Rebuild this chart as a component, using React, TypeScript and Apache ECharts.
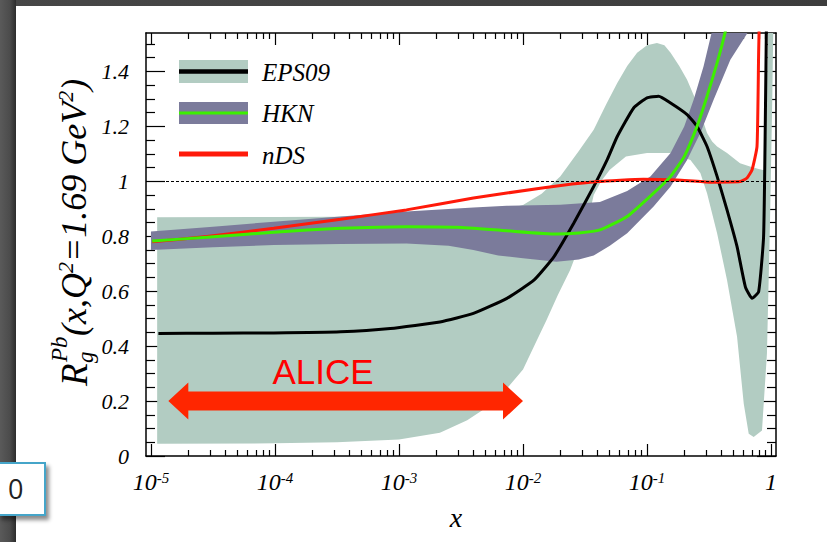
import React, { useEffect, useRef } from 'react';
import * as echarts from 'echarts';

// x positions are given as log10(x); the x axis is logarithmic (10^-5 ... 1)
const xAxisMin = -5.04;
const xAxisMax = 0.04;
const yAxisMin = 0;
const yAxisMax = 1.54;

const xTickExponents = [-5, -4, -3, -2, -1, 0];
const yTickValues = [0, 0.2, 0.4, 0.6, 0.8, 1, 1.2, 1.4];
const yTickLabels = ['0', '0.2', '0.4', '0.6', '0.8', '1', '1.2', '1.4'];
const referenceLevel = 1;

// EPS09 central value [log10 x, R]
const eps09Central: number[][] = [
  [-4.94, 0.446], [-4.5, 0.447], [-4.01, 0.448], [-3.47, 0.452], [-3.07, 0.464],
  [-2.67, 0.488], [-2.4, 0.519], [-2.13, 0.574], [-1.91, 0.641], [-1.75, 0.726],
  [-1.59, 0.848], [-1.43, 0.981], [-1.32, 1.08], [-1.24, 1.163], [-1.108, 1.267],
  [-1.0, 1.304], [-0.906, 1.31], [-0.81, 1.285], [-0.677, 1.243], [-0.597, 1.2],
  [-0.516, 1.127], [-0.435, 1.018], [-0.355, 0.896], [-0.274, 0.762], [-0.207, 0.616],
  [-0.153, 0.574], [-0.1, 0.598], [-0.06, 0.8], [-0.046, 1.224], [-0.036, 1.62],
];
// EPS09 uncertainty band
const eps09Upper: number[][] = [
  [-4.95, 0.869], [-4.0, 0.87], [-3.0, 0.872], [-2.5, 0.878], [-2.2, 0.89],
  [-2.0, 0.914], [-1.85, 0.955], [-1.7, 1.018], [-1.55, 1.11], [-1.43, 1.188],
  [-1.33, 1.28], [-1.24, 1.358], [-1.16, 1.42], [-1.08, 1.468], [-1.0, 1.495],
  [-0.92, 1.504], [-0.86, 1.495], [-0.81, 1.468], [-0.74, 1.42], [-0.677, 1.37],
  [-0.62, 1.31], [-0.57, 1.249], [-0.516, 1.176], [-0.475, 1.145], [-0.435, 1.127],
  [-0.355, 1.103], [-0.25, 1.066], [-0.17, 1.054], [-0.1, 1.045], [-0.05, 1.04],
  [-0.02, 1.62],
];
const eps09Lower: number[][] = [
  [-4.95, 0.045], [-4.0, 0.046], [-3.5, 0.05], [-3.0, 0.06], [-2.67, 0.085],
  [-2.45, 0.13], [-2.3, 0.175], [-2.15, 0.235], [-2.0, 0.315], [-1.89, 0.42],
  [-1.81, 0.495], [-1.72, 0.585], [-1.62, 0.677], [-1.55, 0.76], [-1.48, 0.85],
  [-1.43, 0.95], [-1.37, 1.0], [-1.3, 1.042], [-1.17, 1.09], [-1.0, 1.103],
  [-0.81, 1.103], [-0.65, 1.078], [-0.57, 1.03], [-0.516, 0.957], [-0.435, 0.811],
  [-0.355, 0.641], [-0.274, 0.434], [-0.22, 0.19], [-0.18, 0.081], [-0.14, 0.069],
  [-0.073, 0.093], [-0.033, 0.373], [-0.008, 0.86], [0.01, 1.3], [0.02, 1.62],
];

// HKN central value and band
const hknCentral: number[][] = [
  [-4.99, 0.783], [-4.55, 0.796], [-4.01, 0.815], [-3.47, 0.829], [-2.94, 0.835],
  [-2.53, 0.833], [-2.13, 0.82], [-1.73, 0.808], [-1.55, 0.812], [-1.38, 0.823],
  [-1.16, 0.872], [-0.947, 0.957], [-0.81, 1.018], [-0.7, 1.09], [-0.597, 1.2],
  [-0.516, 1.31], [-0.435, 1.431], [-0.368, 1.547], [-0.34, 1.62],
];
const hknUpper: number[][] = [
  [-5.0, 0.817], [-4.5, 0.835], [-4.01, 0.853], [-3.47, 0.872], [-2.94, 0.89],
  [-2.4, 0.905], [-2.13, 0.911], [-1.7, 0.915], [-1.38, 0.925], [-1.16, 0.965],
  [-0.973, 1.018], [-0.81, 1.103], [-0.7, 1.2], [-0.624, 1.297], [-0.544, 1.419],
  [-0.476, 1.547], [-0.45, 1.62],
];
const hknLower: number[][] = [
  [-5.0, 0.75], [-4.5, 0.76], [-4.01, 0.768], [-3.47, 0.772], [-2.94, 0.774],
  [-2.6, 0.765], [-2.4, 0.75], [-2.2, 0.73], [-2.0, 0.72], [-1.73, 0.707],
  [-1.55, 0.715], [-1.43, 0.73], [-1.3, 0.765], [-1.16, 0.811], [-0.947, 0.908],
  [-0.81, 0.981], [-0.677, 1.078], [-0.57, 1.176], [-0.463, 1.297], [-0.328, 1.443],
  [-0.18, 1.547], [-0.15, 1.62],
];

// nDS central value
const ndsCentral: number[][] = [
  [-4.99, 0.78], [-4.55, 0.799], [-4.01, 0.829], [-3.47, 0.862], [-2.94, 0.896],
  [-2.4, 0.939], [-1.86, 0.975], [-1.4, 0.999], [-1.03, 1.008], [-0.758, 1.005],
  [-0.49, 0.997], [-0.25, 0.999], [-0.194, 1.012], [-0.153, 1.042], [-0.113, 1.127],
  [-0.1, 1.468], [-0.093, 1.62],
];

// ALICE coverage: [log10 x from, log10 x to, R level]
const aliceRange = [[-4.86, -2.0, 0.2]];

const legendNames = ['EPS09', 'HKN', 'nDS'];

const SERIF = '"Liberation Serif", "Times New Roman", serif';
const C_EPS_BAND = '#b2ccc2';
const C_HKN_BAND = '#7b7b9b';
const C_GREEN = '#3cf000';
const C_RED = '#ff1a0a';
const C_ARROW = '#ff2600';

const xMinorTicks: number[] = [];
for (let n = -5; n < 0; n++) {
  for (let k = 2; k <= 9; k++) xMinorTicks.push(n + Math.log10(k));
}
const yMinorTicks: number[] = [];
for (let i = 1; i <= 30; i++) {
  const v = Math.round(i * 5) / 100;
  if (Math.round(v * 100) % 20 !== 0) yMinorTicks.push(v);
}

function xAxisDef(position: string, ticks: number[], len: number, showLine: boolean, labels: boolean) {
  return {
    type: 'value',
    position,
    min: xAxisMin,
    max: xAxisMax,
    axisLine: { show: showLine, onZero: false, lineStyle: { color: '#000', width: 1.5 } },
    axisTick: { show: true, inside: true, length: len, customValues: ticks, lineStyle: { color: '#000', width: 1.2 } },
    axisLabel: labels
      ? {
          show: true,
          customValues: xTickExponents,
          margin: 14,
          formatter: (v: number) => (Math.round(v) === 0 ? '{b|1}' : `{b|10}{s|${Math.round(v)}}`),
          rich: {
            b: { fontFamily: SERIF, fontStyle: 'italic', fontSize: 24, color: '#000', lineHeight: 24 },
            s: { fontFamily: SERIF, fontStyle: 'italic', fontSize: 15, color: '#000', lineHeight: 15, verticalAlign: 'top' },
          },
        }
      : { show: false },
    splitLine: { show: false },
  };
}

function yAxisDef(position: string, ticks: number[], len: number, showLine: boolean, labels: boolean) {
  return {
    type: 'value',
    position,
    min: yAxisMin,
    max: yAxisMax,
    axisLine: { show: showLine, onZero: false, lineStyle: { color: '#000', width: 1.5 } },
    axisTick: { show: true, inside: true, length: len, customValues: ticks, lineStyle: { color: '#000', width: 1.2 } },
    axisLabel: labels
      ? {
          show: true,
          customValues: yTickValues,
          margin: 17,
          fontFamily: SERIF,
          fontStyle: 'italic',
          fontSize: 22,
          color: '#000',
          formatter: (v: number) => {
            const i = yTickValues.findIndex((t) => Math.abs(t - v) < 1e-6);
            return i >= 0 ? yTickLabels[i] : '';
          },
        }
      : { show: false },
    splitLine: { show: false },
  };
}

function bandSeries(name: string, upper: number[][], lower: number[][], color: string) {
  return {
    type: 'custom',
    name,
    xAxisIndex: 0,
    yAxisIndex: 0,
    silent: true,
    data: [[-2, 0.5]],
    renderItem: (params: any, api: any) => {
      const pts = [...upper, ...lower.slice().reverse()].map((p) => api.coord(p));
      const cs = params.coordSys;
      return {
        type: 'polygon',
        shape: { points: pts, smooth: 0 },
        style: { fill: color },
        clipPath: { type: 'rect', shape: { x: cs.x, y: cs.y, width: cs.width, height: cs.height } },
      };
    },
  };
}

function lineSeries(name: string, data: number[][], color: string, width: number, extra: any = {}) {
  return {
    type: 'line',
    name,
    xAxisIndex: 0,
    yAxisIndex: 0,
    data,
    showSymbol: false,
    symbol: 'none',
    smooth: 0.15,
    clip: true,
    silent: true,
    lineStyle: { color, width },
    emphasis: { disabled: true },
    ...extra,
  };
}

export default function App() {
  const ref = useRef<HTMLDivElement>(null);

  useEffect(() => {
    if (!ref.current) return;
    const chart = echarts.init(ref.current, undefined, { renderer: 'svg' });

    const titleFont = (size: number) => `italic ${size}px ${SERIF}`;

    const option: any = {
      animation: false,
      backgroundColor: 'transparent',
      grid: { left: 146, top: 33, width: 630, height: 423, containLabel: false, outerBoundsMode: 'none' },
      xAxis: [
        xAxisDef('bottom', xTickExponents, 12, true, true),
        xAxisDef('bottom', xMinorTicks, 6, false, false),
        xAxisDef('top', xTickExponents, 12, true, false),
        xAxisDef('top', xMinorTicks, 6, false, false),
      ],
      yAxis: [
        yAxisDef('left', yTickValues, 19, true, true),
        yAxisDef('left', yMinorTicks, 9, false, false),
        yAxisDef('right', yTickValues, 19, true, false),
        yAxisDef('right', yMinorTicks, 9, false, false),
      ],
      series: [
        bandSeries('EPS09 band', eps09Upper, eps09Lower, C_EPS_BAND),
        bandSeries('HKN band', hknUpper, hknLower, C_HKN_BAND),
        lineSeries(legendNames[0], eps09Central, '#000', 3),
        lineSeries(legendNames[2], ndsCentral, C_RED, 3),
        lineSeries(legendNames[1], hknCentral, C_GREEN, 3, {
          markLine: {
            silent: true,
            symbol: 'none',
            label: { show: false },
            lineStyle: { color: '#000', width: 1, type: [3, 2] },
            data: [{ yAxis: referenceLevel }],
          },
        }),
        {
          type: 'custom',
          name: 'ALICE',
          xAxisIndex: 0,
          yAxisIndex: 0,
          silent: true,
          data: aliceRange,
          renderItem: (params: any, api: any) => {
            const a = api.coord([api.value(0), api.value(2)]);
            const b = api.coord([api.value(1), api.value(2)]);
            const y = a[1];
            const hl = 20, hh = 18.5, sh = 9.5;
            return {
              type: 'polygon',
              shape: {
                points: [
                  [a[0], y], [a[0] + hl, y - hh], [a[0] + hl, y - sh], [b[0] - hl, y - sh],
                  [b[0] - hl, y - hh], [b[0], y], [b[0] - hl, y + hh], [b[0] - hl, y + sh],
                  [a[0] + hl, y + sh], [a[0] + hl, y + hh],
                ],
              },
              style: { fill: C_ARROW },
            };
          },
        },
      ],
      graphic: [
        // legend
        { type: 'rect', z: 100, shape: { x: 179, y: 60, width: 69, height: 23 }, style: { fill: C_EPS_BAND } },
        { type: 'line', z: 101, shape: { x1: 179, y1: 71.5, x2: 248, y2: 71.5 }, style: { stroke: '#000', lineWidth: 4.5 } },
        { type: 'text', z: 100, x: 262, y: 72, style: { text: legendNames[0], font: titleFont(25), fill: '#000', verticalAlign: 'middle' } },
        { type: 'rect', z: 100, shape: { x: 179, y: 102, width: 69, height: 22 }, style: { fill: C_HKN_BAND } },
        { type: 'line', z: 101, shape: { x1: 179, y1: 113, x2: 248, y2: 113 }, style: { stroke: C_GREEN, lineWidth: 3 } },
        { type: 'text', z: 100, x: 262, y: 113, style: { text: legendNames[1], font: titleFont(25), fill: '#000', verticalAlign: 'middle' } },
        { type: 'line', z: 100, shape: { x1: 179, y1: 154, x2: 248, y2: 154 }, style: { stroke: C_RED, lineWidth: 5 } },
        { type: 'text', z: 100, x: 262, y: 155, style: { text: legendNames[2], font: titleFont(25), fill: '#000', verticalAlign: 'middle' } },
        // ALICE label
        {
          type: 'text', z: 100, x: 323, y: 371,
          style: { text: 'ALICE', font: '35px "Liberation Sans", Arial, sans-serif', fill: '#ff0000', align: 'center', verticalAlign: 'middle' },
        },
        // x axis title
        { type: 'text', z: 100, x: 456, y: 517, style: { text: 'x', font: titleFont(28), fill: '#000', align: 'center', verticalAlign: 'middle' } },
        // y axis title
        {
          type: 'group', z: 100, x: 74, y: 386, rotation: Math.PI / 2,
          children: [
            { type: 'text', x: 0, y: 0, style: { text: 'R', font: titleFont(37), fill: '#000', verticalAlign: 'middle' } },
            { type: 'text', x: 24, y: -15, style: { text: 'Pb', font: titleFont(23), fill: '#000', verticalAlign: 'middle' } },
            { type: 'text', x: 23, y: 11, style: { text: 'g', font: titleFont(23), fill: '#000', verticalAlign: 'middle' } },
            {
              type: 'text', x: 50, y: 0,
              style: {
                text: '{m|(x,Q}{s|2}{m|=1.69 GeV}{s|2}{m|)}',
                fill: '#000',
                verticalAlign: 'middle',
                rich: {
                  m: { fontFamily: SERIF, fontStyle: 'italic', fontSize: 36, lineHeight: 40, fill: '#000' },
                  s: { fontFamily: SERIF, fontStyle: 'italic', fontSize: 22, lineHeight: 22, verticalAlign: 'top', fill: '#000' },
                },
              },
            },
          ],
        },
      ],
    };

    chart.setOption(option);
    return () => chart.dispose();
  }, []);

  return (
    <div style={{ position: 'fixed', left: 0, top: 0, width: 827, height: 542, overflow: 'hidden', background: 'linear-gradient(to right, #474747, #3d3d3d)' }}>
      <div style={{ position: 'absolute', left: 0, top: 0, width: 16, height: 542, background: 'linear-gradient(to right, #5a5a5a, #4c4c4c 60%, #2c2c2c)' }} />
      <div style={{ position: 'absolute', left: 16, top: 6, right: 0, bottom: 0, background: '#ffffff' }} />
      <div ref={ref} style={{ position: 'absolute', left: 0, top: 0, width: 827, height: 542 }} />
      <div
        style={{
          position: 'absolute', left: -2, top: 462, width: 48, height: 54, boxSizing: 'border-box',
          border: '2px solid #45a5c9', background: '#fff', boxShadow: '3px 4px 4px rgba(0,0,0,0.45)',
          fontFamily: '"Open Sans", "Liberation Sans", sans-serif', fontSize: 27, color: '#222',
          lineHeight: '50px', paddingLeft: 8,
        }}
      >
        0
      </div>
    </div>
  );
}
